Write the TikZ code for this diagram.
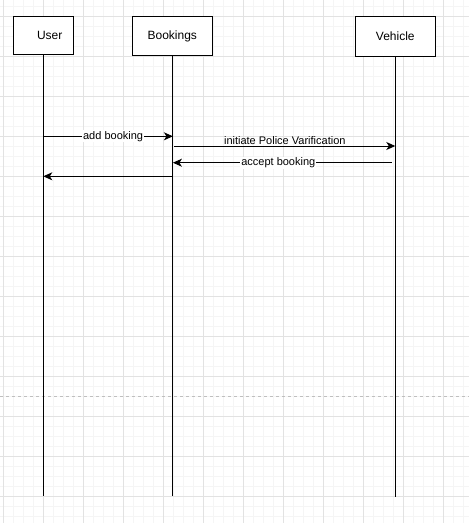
\documentclass[tikz,border=0pt]{standalone}
\usepackage{fontspec}
\setmainfont{Liberation Sans}
\usetikzlibrary{arrows.meta}
\definecolor{gmaj}{HTML}{E2E2E2}
\definecolor{gmin}{HTML}{F5F5F5}
\tikzset{
  lifebox/.style={draw=black, line width=1pt, fill=white, inner sep=0pt},
  lifeline/.style={draw=black, line width=1pt},
  msg/.style={draw=black, line width=1pt, -{Stealth[length=9pt,width=8pt,inset=2.5pt]}},
  msglabel/.style={font=\fontsize{11}{13}\selectfont, fill=white, inner sep=1pt},
  boxlabel/.style={font=\fontsize{12}{14}\selectfont}
}
\begin{document}
\begin{tikzpicture}[x=1pt,y=-1pt]
\useasboundingbox (0,0) rectangle (469,523);
\fill[white] (0,0) rectangle (469,523);
% minor grid
\foreach \x in {3.3,13.3,...,469} \draw[gmin, line width=0.8pt] (\x,0) -- (\x,523);
\foreach \y in {6,16,...,523} \draw[gmin, line width=0.8pt] (0,\y) -- (469,\y);
% major grid
\foreach \x in {3.3,43.3,...,469} \draw[gmaj, line width=1pt] (\x,0) -- (\x,523);
\foreach \y in {16,56,...,523} \draw[gmaj, line width=1pt] (0,\y) -- (469,\y);
% page break line
\draw[black!25, line width=1pt, dash pattern=on 3pt off 3pt] (0,396) -- (469,396);

% participants
\node[lifebox, minimum width=60pt, minimum height=38pt,
      label={[boxlabel, xshift=6.4pt]center:User}] (user) at (43.3,35.2) {};
\node[lifebox, minimum width=80pt, minimum height=39pt,
      label={[boxlabel, yshift=-0.5pt]center:Bookings}] (book) at (172.3,35.7) {};
\node[lifebox, minimum width=80pt, minimum height=40pt,
      label={[boxlabel]center:Vehicle}] (veh) at (395.3,36.2) {};

% lifeline ends
\coordinate (userEnd) at (43.3,496);
\coordinate (bookEnd) at (172.9,496);
\coordinate (vehEnd) at (395.3,497);
\draw[lifeline] (user.south) -- (userEnd);
\draw[lifeline] (book.south -| bookEnd) -- (bookEnd);
\draw[lifeline] (veh.south) -- (vehEnd);

% message end points
\coordinate (m1a) at (43.3,136.3);
\coordinate (m1b) at (172.9,136.3);
\coordinate (m2a) at (174.3,146);
\coordinate (m2b) at (395.3,146);
\coordinate (m3a) at (391.7,162.7);
\coordinate (m3b) at (172.9,162.7);
\coordinate (m4a) at (172.9,176.3);
\coordinate (m4b) at (43.3,176.3);

\draw[msg] (m1a) -- node[msglabel, xshift=5pt] (l1) {add booking} (m1b);
\draw[msg] (m2a) -- node[msglabel, fill=none, above=0pt] (l2) {initiate Police Varification} (m2b);
\draw[msg] (m3a) -- node[msglabel, xshift=-4pt] (l3) {accept booking} (m3b);
\draw[msg] (m4a) -- (m4b);
\end{tikzpicture}
\end{document}
